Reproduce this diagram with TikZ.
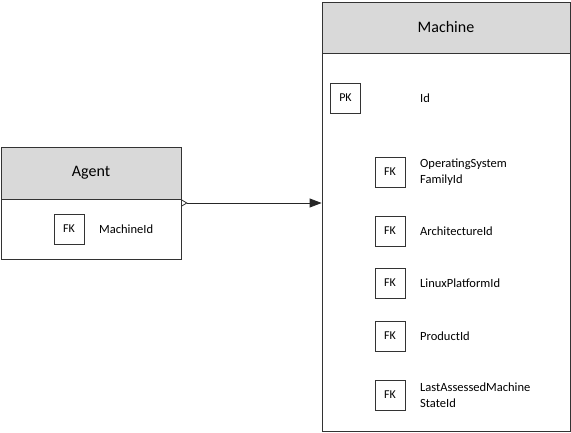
\documentclass[tikz,border=0pt]{standalone}
\usepackage{fontspec}
\setmainfont{Carlito}
\usetikzlibrary{arrows.meta}
\pgfkeys{tikz/erbox/.style={draw=black!80, line width=0.8pt, rectangle, inner sep=0pt}}
\pgfkeys{tikz/erhead/.style={erbox, fill=black!15,
                                 font=\fontsize{16}{18}\selectfont}}
\pgfkeys{tikz/erkey/.style={erbox, minimum size=30pt, fill=white,
                                font=\fontsize{12}{14}\selectfont}}
\pgfkeys{tikz/erattr/.style={anchor=west, align=left, inner sep=0pt,
                                 font=\fontsize{12.5}{16}\selectfont}}
\begin{document}
\begin{tikzpicture}[x=1pt,y=-1pt]
                    \useasboundingbox (0,0) rectangle (571,433);
                    % Agent
                    \node [erbox, minimum width=180pt, minimum height=112pt] (agent) at (91,203) {};
                    \node [erhead, minimum width=180pt, minimum height=52pt, anchor=north] (agenthead) at (agent.north) {Agent};
                    \node [erkey] (agentfk) at (69,229) {FK};
                    \node [erattr] (agentattr) at (99,229) {MachineId};
                    % Machine
                    \node [erbox, minimum width=248pt, minimum height=429pt] (machine) at (446,216.5) {};
                    \node [erhead, minimum width=248pt, minimum height=51pt, anchor=north] (machinehead) at (machine.north) {Machine};
                    \node [erkey] (machinepk) at (345.5,98) {PK};
                    \node [erattr] (idattr) at (420,98) {Id};
                    \foreach \y/\name/\txt in {172/osfamily/{OperatingSystem\\FamilyId},
                                              231/arch/ArchitectureId,
                                              283/linux/LinuxPlatformId,
                                              336/product/ProductId,
                                              395/laststate/{LastAssessedMachine\\StateId}} {
                        \node [erkey] (\name fk) at (390,\y) {FK};
                        \node [erattr] (\name attr) at (420,\y) {\txt};
                    }
                        \draw [line width=0.8pt, black!85, {Straight Barb[reversed,length=5pt,width=6pt]}-{Triangle[length=12pt,width=9pt]}] (agent.east) -- (agent.east -| machine.west);
                \end{tikzpicture}
\end{document}
